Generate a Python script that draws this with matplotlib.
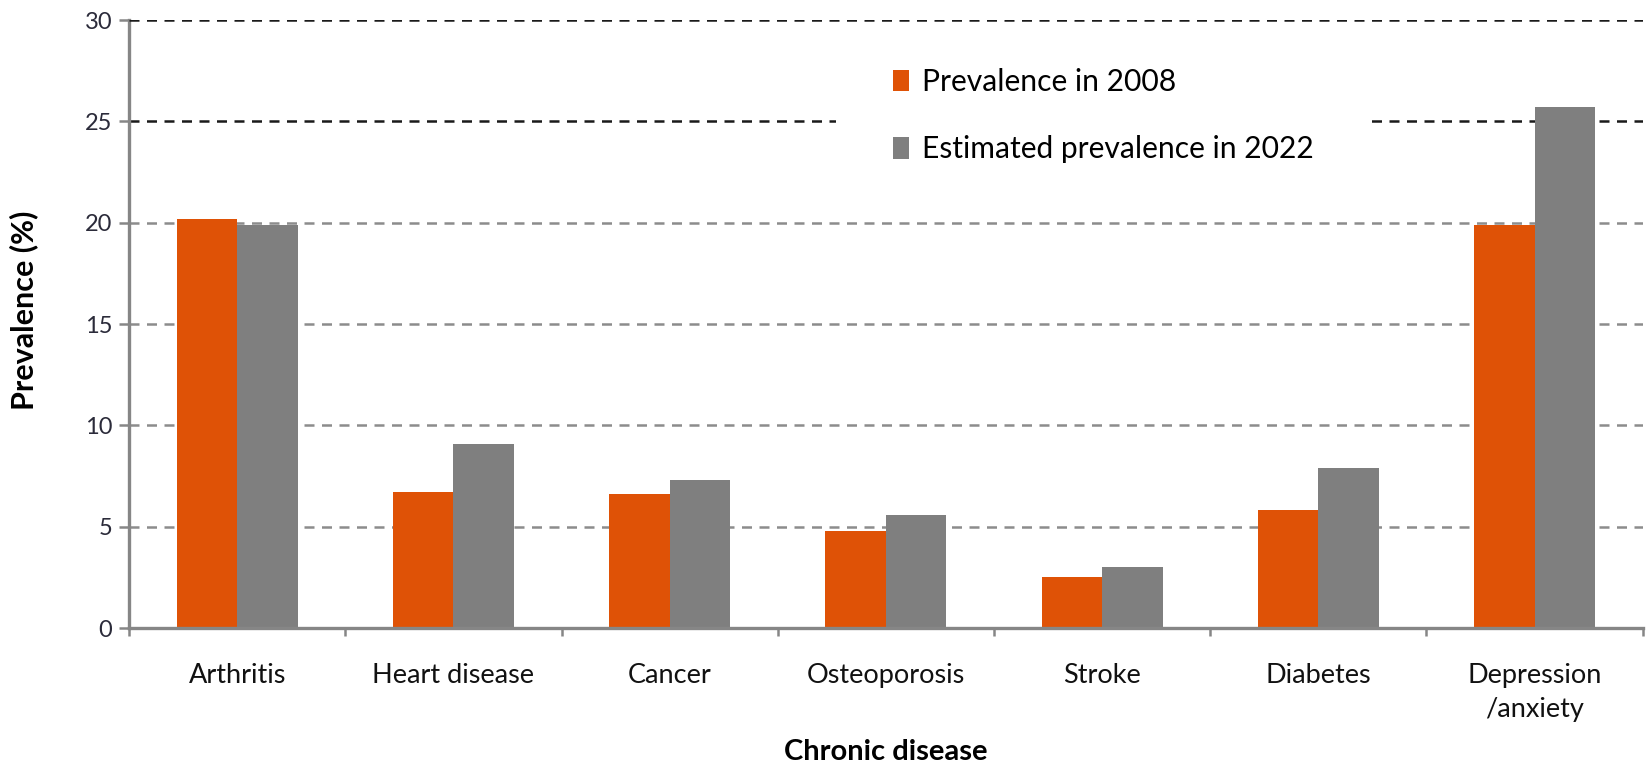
import matplotlib
matplotlib.use("Agg")
import matplotlib.pyplot as plt
import numpy as np

plt.rcParams.update({"font.family": ["Lato", "DejaVu Sans"], "font.size": 15})

diseases = ["Arthritis", "Heart disease", "Cancer", "Osteoporosis",
            "Stroke", "Diabetes", "Depression\n/anxiety"]
prev_2008 = [20.2, 6.7, 6.6, 4.8, 2.5, 5.8, 19.9]
prev_2022 = [19.9, 9.1, 7.3, 5.6, 3.0, 7.9, 25.7]
yticks = [0, 5, 10, 15, 20, 25, 30]

ORANGE = "#DF5206"
GREY = "#7F7F7F"
AXIS = "#868686"

fig = plt.figure(figsize=(16.46, 7.7), dpi=100)
ax = fig.add_axes([0.0784, 0.1844, 0.9196, 0.7896])

x = np.arange(len(diseases))
w = 0.28
ax.bar(x - w / 2, prev_2008, w, color=ORANGE, label="Prevalence in 2008", zorder=2)
ax.bar(x + w / 2, prev_2022, w, color=GREY, label="Estimated prevalence in 2022", zorder=2)

# dashed gridlines: upper two darker than the rest
for yv in yticks[1:]:
    col = "#1a1a1a" if yv >= 25 else "#8c8c8c"
    z = 3 if yv == 30 else 1
    ax.axhline(yv, color=col, linestyle=(0, (4, 3)), linewidth=1.8, zorder=z)

ax.set_xlim(-0.5, len(diseases) - 0.5)
ax.set_ylim(0, 30)
ax.set_yticks(yticks)
ax.set_xticks(x)
ax.set_xticklabels(diseases, linespacing=1.45)
ax.set_xticks(np.arange(len(diseases) + 1) - 0.5, minor=True)

for s in ["top", "right"]:
    ax.spines[s].set_visible(False)
for s in ["left", "bottom"]:
    ax.spines[s].set_color(AXIS)
    ax.spines[s].set_linewidth(2.4)

ax.tick_params(axis="y", length=7, width=1.8, color=AXIS, labelcolor="#2b2b3a",
               labelsize=17, pad=5)
ax.tick_params(axis="x", which="major", length=0, pad=25, labelsize=19.5, labelcolor="#111111")
ax.tick_params(axis="x", which="minor", length=6, width=1.8, color=AXIS)

ax.set_ylabel("Prevalence (%)", fontweight="bold", fontsize=22)
ax.yaxis.set_label_coords(-0.060, 0.523)
ax.set_xlabel("Chronic disease", fontweight="bold", fontsize=21)
ax.xaxis.set_label_coords(0.5, -0.183)

leg = ax.legend(loc="upper left", bbox_to_anchor=(0.457, 1.04), frameon=True,
                fancybox=False, edgecolor="none", facecolor="white", framealpha=1,
                handlelength=0.54, handleheight=0.72, handletextpad=0.45,
                labelspacing=1.32, borderpad=1.9, fontsize=21.6)
leg.set_zorder(2.5)

fig.savefig("out.png", dpi=100)
